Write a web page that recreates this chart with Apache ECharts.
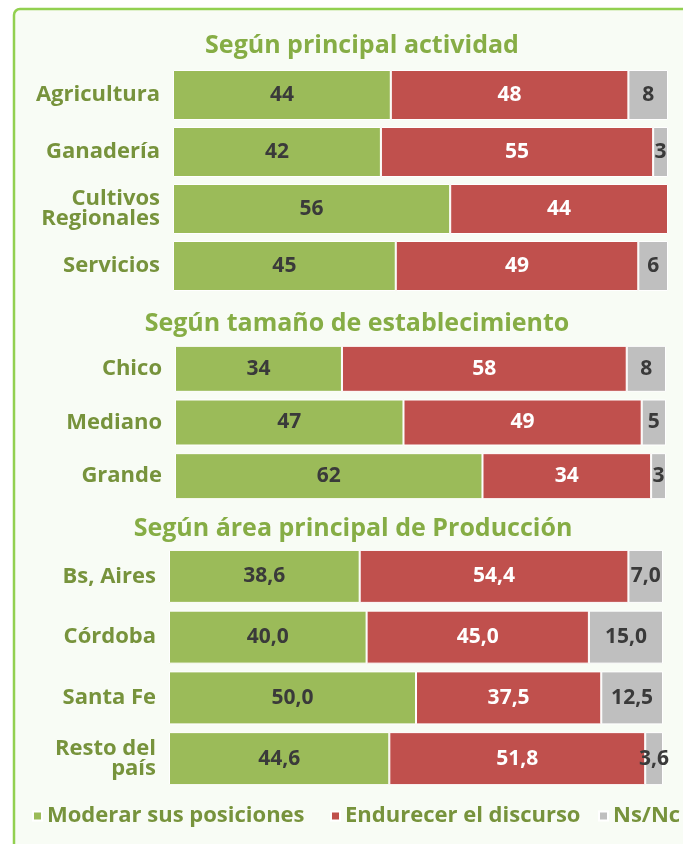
<!DOCTYPE html>
<html>
<head>
<meta charset="utf-8">
<script src="https://cdn.jsdelivr.net/npm/echarts@6/dist/echarts.min.js"></script>
<style>
  html, body { margin: 0; padding: 0; background: #ffffff; }
  #chart { width: 683px; height: 844px; }
</style>
</head>
<body>
<div id="chart"></div>
<script>
// ------------------- //
// Data
// ------------------- //
const seriesNames = ["Moderar sus posiciones", "Endurecer el discurso", "Ns/Nc"];

// Según principal actividad
const cats1 = ["Agricultura", "Ganadería", "Cultivos\nRegionales", "Servicios"];
const moderar1 = [44, 42, 56, 45];
const endurecer1 = [48, 55, 44, 49];
const nsnc1 = [8, 3, null, 6];

// Según tamaño de establecimiento
const cats2 = ["Chico", "Mediano", "Grande"];
const moderar2 = [34, 47, 62];
const endurecer2 = [58, 49, 34];
const nsnc2 = [8, 5, 3];

// Según área principal de Producción
const cats3 = ["Bs, Aires", "Córdoba", "Santa Fe", "Resto del\npaís"];
const moderar3 = [38.6, 40.0, 50.0, 44.6];
const endurecer3 = [54.4, 45.0, 37.5, 51.8];
const nsnc3 = [7.0, 15.0, 12.5, 3.6];

const sectionTitles = ["Según principal actividad", "Según tamaño de establecimiento", "Según área principal de Producción"];

// Colours
const colors = ["#9bbb59", "#c0504d", "#bfbfbf"];
const labelColors = ["#3a3a3a", "#ffffff", "#3a3a3a"];
const greenText = "#77933c";
const titleGreen = "#86ad45";
const valueFont = "'Open Sans', sans-serif";
const textFont = "'Open Sans', sans-serif";

// Each section: data, grid placement, decimals
const sections = [
    { cats: cats1, data: [moderar1, endurecer1, nsnc1], decimals: 0,
      grid: { left: 173, right: 15, top: 66.5, height: 228 }, barWidth: 50, titleX: 357, titleY: 28 },
    { cats: cats2, data: [moderar2, endurecer2, nsnc2], decimals: 0,
      grid: { left: 175, right: 17, top: 342, height: 161 }, barWidth: 46, titleX: 352, titleY: 306 },
    { cats: cats3, data: [moderar3, endurecer3, nsnc3], decimals: 1,
      grid: { left: 169, right: 20, top: 546, height: 243 }, barWidth: 53, titleX: 348, titleY: 511 },
];

// Legend item positions (one legend per item so they never wrap)
const legendLefts = [32, 330, 598];

// Row totals, so each bar fills the full width (100% stacked like the original)
function rowTotals(data) {
    return data[0].map((_, i) => data.reduce((s, arr) => s + (arr[i] || 0), 0));
}

const grids = [];
const xAxes = [];
const yAxes = [];
const series = [];
const titles = [];

sections.forEach((sec, g) => {
    grids.push(sec.grid);
    xAxes.push({ type: "value", gridIndex: g, min: 0, max: 100, show: false });
    yAxes.push({
        type: "category",
        gridIndex: g,
        inverse: true,
        data: sec.cats,
        axisLine: { show: false },
        axisTick: { show: false },
        axisLabel: {
            margin: 13,
            color: greenText,
            fontFamily: textFont,
            fontWeight: "bold",
            fontSize: 22,
            lineHeight: 20,
            align: "right",
        },
    });
    titles.push({
        text: sectionTitles[g],
        left: sec.titleX,
        top: sec.titleY,
        textAlign: "center",
        textStyle: { color: titleGreen, fontFamily: textFont, fontWeight: "bold", fontSize: 25 },
    });

    const totals = rowTotals(sec.data);
    sec.data.forEach((arr, s) => {
        series.push({
            name: seriesNames[s],
            type: "bar",
            stack: "total" + g,
            xAxisIndex: g,
            yAxisIndex: g,
            barWidth: sec.barWidth,
            itemStyle: { color: colors[s], borderColor: "#ffffff", borderWidth: 1 },
            label: {
                show: true,
                position: "inside",
                color: labelColors[s],
                fontFamily: valueFont,
                fontWeight: "bold",
                fontSize: 21,
                formatter: p => p.data.raw == null ? "" : p.data.raw.toFixed(sec.decimals).replace(".", ","),
            },
            data: arr.map((v, i) => v == null ? null : { value: v / totals[i] * 100, raw: v }),
        });
    });
});

const legends = seriesNames.map((name, i) => ({
    data: [name],
    left: legendLefts[i],
    top: 805,
    padding: 0,
    icon: "rect",
    itemWidth: 9,
    itemHeight: 9,
    selectedMode: false,
    textStyle: { color: greenText, fontFamily: textFont, fontWeight: "bold", fontSize: 22 },
}));

const chart = echarts.init(document.getElementById("chart"));

const option = {
    animation: false,
    backgroundColor: "#ffffff",
    title: titles,
    graphic: [{
        type: "rect",
        z: -10,
        shape: { x: 14, y: 9, width: 720, height: 900, r: 6 },
        style: { fill: "#f8fcf5", stroke: "#92d050", lineWidth: 2.5 },
    }],
    grid: grids,
    xAxis: xAxes,
    yAxis: yAxes,
    legend: legends,
    series: series,
};

chart.setOption(option);
</script>
</body>
</html>
